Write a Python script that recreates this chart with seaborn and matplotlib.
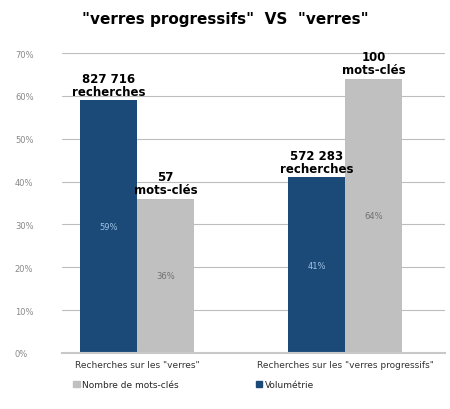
import pandas as pd
import matplotlib
matplotlib.use("Agg")
import matplotlib.pyplot as plt
import seaborn as sns

# data
categories = ['Recherches sur les "verres"', 'Recherches sur les "verres progressifs"']
series = ["Volumétrie", "Nombre de mots-clés"]
volume_pct = [59, 41]
keywords_pct = [36, 64]
volume_abs = ["827 716", "572 283"]
keywords_abs = ["57", "100"]
yticks = [0, 10, 20, 30, 40, 50, 60, 70]

df = pd.DataFrame({
    "cat": categories * 2,
    "serie": [series[0]] * 2 + [series[1]] * 2,
    "pct": volume_pct + keywords_pct,
})

sns.set_theme(style="white")
plt.rcParams["font.family"] = ["DejaVu Sans"]

fig = plt.figure(figsize=(4.5, 4.1), dpi=100)
ax = fig.add_axes([0.138, 0.137, 0.851, 0.731])

palette = {series[0]: "#1b4a78", series[1]: "#c0c0c0"}
sns.barplot(data=df, x="cat", y="pct", hue="serie", hue_order=series,
            palette=palette, width=0.55, saturation=1, ax=ax,
            edgecolor="none", legend=False)

# inner percentage labels and outer count labels
for cont, pcts, absv, word, col in [
        (ax.containers[0], volume_pct, volume_abs, "recherches", "#9fc3e6"),
        (ax.containers[1], keywords_pct, keywords_abs, "mots-clés", "#707070")]:
    for bar, p, a in zip(cont, pcts, absv):
        x = bar.get_x() + bar.get_width() / 2
        ax.text(x, p / 2, f"{p}%", ha="center", va="center", fontsize=6, color=col)
        ax.text(x, p + 0.6, f"{a}\n{word}", ha="center", va="bottom",
                fontsize=8.5, fontweight="bold", color="black", linespacing=1.0)

ax.set_ylim(0, 70)
ax.set_xlim(-0.36, 1.48)
ax.set_yticks(yticks)
ax.set_yticklabels([f"{t}%" for t in yticks], fontsize=6, color="#888888")
ax.tick_params(axis="y", pad=34, length=0)
for lab in ax.get_yticklabels():
    lab.set_horizontalalignment("left")
ax.tick_params(axis="x", labelsize=6.5, colors="#333333", length=0, pad=5)
ax.yaxis.grid(True, color="#bdbdbd", linewidth=0.8)
ax.set_axisbelow(True)
ax.set_xlabel("")
ax.set_ylabel("")
for s in ["top", "right", "left"]:
    ax.spines[s].set_visible(False)
ax.spines["bottom"].set_color("#c8c8c8")
ax.spines["bottom"].set_linewidth(1.5)

handles = [plt.Rectangle((0, 0), 1, 1, color=palette[series[1]]),
           plt.Rectangle((0, 0), 1, 1, color=palette[series[0]])]
fig.legend(handles, [series[1], series[0]], loc="center left", ncol=2,
           bbox_to_anchor=(0.145, 0.06), frameon=False, fontsize=6.5,
           handlelength=0.7, handleheight=0.7, handletextpad=0.3,
           columnspacing=8.5)

fig.suptitle('"verres progressifs"  VS  "verres"', y=0.97, fontsize=11,
             fontweight="bold", color="black")

fig.savefig("out.png", dpi=100)
